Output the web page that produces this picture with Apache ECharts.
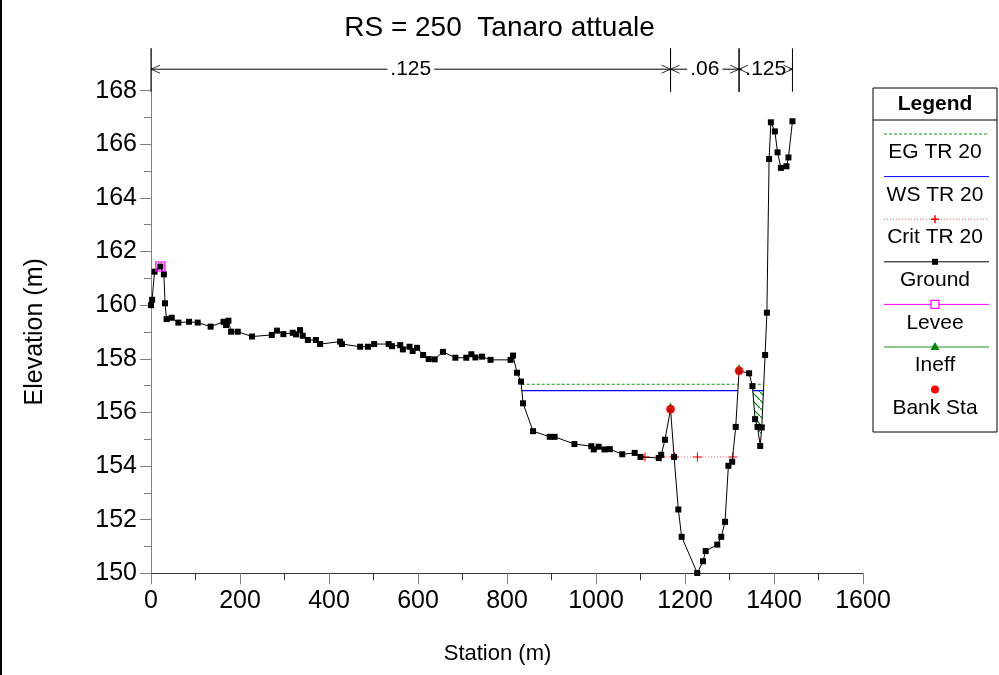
<!DOCTYPE html>
<html>
<head>
<meta charset="utf-8">
<script src="https://cdn.jsdelivr.net/npm/echarts@6/dist/echarts.min.js"></script>
<style>
  html, body { margin: 0; padding: 0; background: #fff; }
  #chart { width: 999px; height: 675px; }
</style>
</head>
<body>
<div id="chart"></div>
<script>
// cross section RS 250
const groundStation = [0, 2.5, 8, 21, 29, 31.5, 35, 46.5, 61.5, 85.5, 105, 134, 163, 168.5, 174, 180, 195, 227,
  271.5, 283, 297.5, 318.5, 326, 335, 341, 352.5, 370.5, 380, 425, 429, 470, 487.5, 501.5, 534, 541.5, 560,
  566, 581, 588, 598, 611.5, 624, 637.5, 656, 684, 708.5, 720, 729, 744, 763, 808, 813.5, 822.5, 831.5, 836,
  858.5, 896, 907, 951.5, 989.5, 995, 1006, 1019, 1031, 1059, 1087, 1100, 1141, 1146.5, 1155, 1167.5, 1175.5,
  1185, 1192.5, 1227.5, 1240.5, 1246.5, 1272.5, 1281.5, 1290, 1297.5, 1306, 1314, 1321.5, 1344, 1351.5, 1357.5,
  1363, 1369, 1372.5, 1380, 1384, 1389, 1393, 1402, 1408, 1415.5, 1428, 1432.5, 1441.5];
const groundElev = [160.00, 160.20, 161.25, 161.44, 161.15, 160.07, 159.48, 159.53, 159.35, 159.38, 159.35, 159.20,
  159.38, 159.26, 159.42, 159.01, 159.01, 158.83, 158.89, 159.05, 158.92, 158.97, 158.91, 159.07, 158.86, 158.70,
  158.70, 158.55, 158.64, 158.55, 158.45, 158.45, 158.55, 158.55, 158.47, 158.51, 158.35, 158.45, 158.29, 158.41,
  158.14, 157.99, 157.98, 158.26, 158.04, 158.04, 158.17, 158.05, 158.08, 157.96, 157.96, 158.12, 157.48, 157.15,
  156.34, 155.30, 155.09, 155.09, 154.82, 154.74, 154.62, 154.72, 154.62, 154.63, 154.44, 154.49, 154.34, 154.30,
  154.42, 154.98, 156.12, 154.34, 152.38, 151.36, 150.01, 150.45, 150.83, 151.07, 151.36, 151.92, 154.01, 154.16,
  155.46, 157.55, 157.46, 156.98, 155.75, 155.46, 154.75, 155.44, 158.14, 159.72, 165.45, 166.82, 166.48, 165.70,
  165.12, 165.18, 165.51, 166.86];

const egElev = 157.05;
const egStations = [[833, 1319.7], [1352.3, 1376.3]];
const wsElev = 156.81;
const wsStations = [[833.4, 1318.8], [1352.3, 1376.3]];
const critElev = 154.34;
const critStations = [1110, 1145.5, 1176.5, 1228, 1307.5];
const leveeStation = [21];
const leveeElev = [161.44];
const bankStation = [1167.5, 1321.5];
const bankElev = [156.12, 157.55];

// ineffective flow area below WS (hatched)
const ineffX = [1352.3, 1357.5, 1363, 1369, 1372.5, 1376.3];
const ineffY = [156.81, 155.75, 155.46, 154.75, 155.44, 156.81];

// Manning's n breaks
const nStations = [0, 1167.5, 1321.5, 1441.5];
const nLabels = ['.125', '.06', '.125'];
const nArrowElev = 168.8;
const nLineBottom = 167.96;

const yMin = 150, yMax = 169.58;
const yMajor = [150, 152, 154, 156, 158, 160, 162, 164, 166, 168];
const yMinor = [151, 153, 155, 157, 159, 161, 163, 165, 167];

const legendNames = ['EG TR 20', 'WS TR 20', 'Crit TR 20', 'Ground', 'Levee', 'Ineff', 'Bank Sta'];

const FONT = 'Liberation Sans, Arial, sans-serif';
const chart = echarts.init(document.getElementById('chart'));

const segData = (segs, elev) => {
  const out = [];
  segs.forEach((s, i) => {
    if (i > 0) out.push(['-', '-']);
    out.push([s[0], elev], [s[1], elev]);
  });
  return out;
};

// hatch pattern
const hatch = document.createElement('canvas');
hatch.width = 8; hatch.height = 8;
const hctx = hatch.getContext('2d');
hctx.strokeStyle = '#008000';
hctx.lineWidth = 1.2;
hctx.beginPath(); hctx.moveTo(-1, -1); hctx.lineTo(9, 9); hctx.stroke();

const plusPath = 'path://M4.4,0H5.6V10H4.4ZM0,4.4H10V5.6H0Z';

// legend box (drawn by hand, items stacked like the original)
const legendGraphic = [];
const LX = 873, LY = 88, LW = 124, LH = 344;
legendGraphic.push({ type: 'rect', shape: { x: LX, y: LY, width: LW, height: LH },
  style: { fill: '#fff', stroke: '#000', lineWidth: 1 } });
legendGraphic.push({ type: 'line', shape: { x1: LX, y1: 120, x2: LX + LW, y2: 120 }, style: { stroke: '#000', lineWidth: 1 } });
legendGraphic.push({ type: 'text', style: { text: 'Legend', x: LX + LW / 2, y: 104, align: 'center', verticalAlign: 'middle',
  fontSize: 21, fontWeight: 'bold', fontFamily: FONT, fill: '#000' } });
const legendStyles = [
  { stroke: '#1f8f1f', dash: [3, 2] },
  { stroke: '#0000ff' },
  { stroke: '#ff6060', dash: [1, 2], marker: 'plus' },
  { stroke: '#000', marker: 'square' },
  { stroke: '#ff00ff', marker: 'open' },
  { stroke: '#1f8f1f', marker: 'tri' },
  { marker: 'dot' }
];
legendNames.forEach((name, i) => {
  const ly = 134 + i * 42.6;
  const cx = LX + LW / 2;
  const st = legendStyles[i];
  if (st.stroke) {
    legendGraphic.push({ type: 'line', shape: { x1: 884, y1: ly, x2: 989, y2: ly },
      style: { stroke: st.stroke, lineWidth: 1, lineDash: st.dash || null } });
  }
  if (st.marker === 'plus') {
    legendGraphic.push({ type: 'line', shape: { x1: cx - 4, y1: ly, x2: cx + 4, y2: ly }, style: { stroke: '#ff0000', lineWidth: 1.5 } });
    legendGraphic.push({ type: 'line', shape: { x1: cx, y1: ly - 4, x2: cx, y2: ly + 4 }, style: { stroke: '#ff0000', lineWidth: 1.5 } });
  } else if (st.marker === 'square') {
    legendGraphic.push({ type: 'rect', shape: { x: cx - 3, y: ly - 3, width: 6, height: 6 }, style: { fill: '#000' } });
  } else if (st.marker === 'open') {
    legendGraphic.push({ type: 'rect', shape: { x: cx - 4, y: ly - 4, width: 8, height: 8 }, style: { fill: '#fff', stroke: '#ff00ff', lineWidth: 1.2 } });
  } else if (st.marker === 'tri') {
    legendGraphic.push({ type: 'polygon', shape: { points: [[cx, ly - 5], [cx - 4.5, ly + 3], [cx + 4.5, ly + 3]] }, style: { fill: '#008000' } });
  } else if (st.marker === 'dot') {
    legendGraphic.push({ type: 'circle', shape: { cx: cx, cy: ly, r: 4 }, style: { fill: '#ff0000' } });
  }
  legendGraphic.push({ type: 'text', style: { text: name, x: cx, y: ly + 18.5, align: 'center', verticalAlign: 'middle',
    fontSize: 21, fontFamily: FONT, fill: '#000' } });
});

const option = {
  animation: false,
  backgroundColor: '#fff',
  title: {
    text: 'RS = 250  Tanaro attuale',
    left: 'center',
    top: 9,
    textStyle: { fontSize: 28, fontWeight: 'normal', fontFamily: FONT, color: '#000' }
  },
  grid: { left: 151, right: 136, top: 48.3, bottom: 101.7 },
  xAxis: {
    type: 'value',
    min: 0, max: 1600, interval: 200,
    name: 'Station (m)', nameLocation: 'middle', nameGap: 70,
    nameTextStyle: { fontSize: 22, fontFamily: FONT, color: '#000', padding: [0, 19, 0, 0] },
    axisLine: { show: true, onZero: false, lineStyle: { color: '#333', width: 1 } },
    axisTick: { show: true, length: 11, lineStyle: { color: '#808080' } },
    minorTick: { show: true, splitNumber: 2, length: 7, lineStyle: { color: '#333' } },
    axisLabel: { fontSize: 25, fontFamily: FONT, color: '#000', margin: 15, formatter: v => String(v) },
    splitLine: { show: false }
  },
  yAxis: [{
    type: 'value',
    min: yMin, max: yMax,
    name: 'Elevation (m)', nameLocation: 'middle', nameGap: 103, nameRotate: 90,
    nameTextStyle: { fontSize: 25, fontFamily: FONT, color: '#000', padding: [0, 42, 0, 0] },
    axisLine: { show: true, onZero: false, lineStyle: { color: '#808080' } },
    axisTick: { show: true, length: 11, customValues: yMajor, lineStyle: { color: '#808080' } },
    axisLabel: { customValues: yMajor, fontSize: 25, fontFamily: FONT, color: '#000', margin: 14, formatter: v => String(v) },
    splitLine: { show: false }
  }, {
    type: 'value',
    min: yMin, max: yMax, position: 'left',
    axisLine: { show: false },
    axisTick: { show: true, length: 7, customValues: yMinor, lineStyle: { color: '#808080' } },
    axisLabel: { show: false },
    splitLine: { show: false }
  }],
  series: [
    {
      name: 'Ineff area',
      type: 'custom',
      data: [0],
      z: 1,
      renderItem: (params, api) => ({
        type: 'polygon',
        shape: { points: ineffX.map((x, i) => api.coord([x, ineffY[i]])) },
        style: { fill: { image: hatch, repeat: 'repeat' }, stroke: null }
      })
    },
    {
      name: 'EG TR 20',
      type: 'line',
      data: segData(egStations, egElev),
      symbol: 'none',
      lineStyle: { color: '#1f8f1f', width: 1, type: [3, 2] },
      z: 2
    },
    {
      name: 'WS TR 20',
      type: 'line',
      data: segData(wsStations, wsElev),
      symbol: 'none',
      lineStyle: { color: '#0000ff', width: 1.2 },
      z: 2
    },
    {
      name: 'Crit TR 20',
      type: 'line',
      data: critStations.map(s => [s, critElev]),
      symbol: plusPath,
      symbolSize: 9,
      itemStyle: { color: '#ff0000' },
      lineStyle: { color: '#ff6060', width: 1, type: [1, 2] },
      z: 3
    },
    {
      name: 'Ground',
      type: 'line',
      data: groundStation.map((s, i) => [s, groundElev[i]]),
      symbol: 'rect',
      symbolSize: 6,
      itemStyle: { color: '#000' },
      lineStyle: { color: '#000', width: 1 },
      z: 4
    },
    {
      name: 'Levee',
      type: 'scatter',
      data: leveeStation.map((s, i) => [s, leveeElev[i]]),
      symbol: 'rect',
      symbolSize: 9,
      itemStyle: { color: 'rgba(0,0,0,0)', borderColor: '#ff00ff', borderWidth: 1.6 },
      z: 5
    },
    {
      name: 'Ineff',
      type: 'scatter',
      data: bankStation.map((s, i) => [s, bankElev[i]]),
      symbol: 'triangle',
      symbolSize: 8,
      symbolOffset: [0, -3],
      itemStyle: { color: '#008000' },
      z: 5
    },
    {
      name: 'Bank Sta',
      type: 'scatter',
      data: bankStation.map((s, i) => [s, bankElev[i]]),
      symbol: 'circle',
      symbolSize: 9,
      itemStyle: { color: '#ff0000' },
      z: 6
    },
    {
      name: 'n values',
      type: 'custom',
      data: nLabels.map((l, i) => [nStations[i], nStations[i + 1]]),
      z: 7,
      renderItem: (params, api) => {
        const a = api.coord([api.value(0), nArrowElev]);
        const b = api.coord([api.value(1), nArrowElev]);
        const top = api.coord([api.value(0), yMax])[1];
        const bot = api.coord([api.value(0), nLineBottom])[1];
        const y = a[1];
        const ls = { stroke: '#000', lineWidth: 1 };
        return {
          type: 'group',
          children: [
            { type: 'line', shape: { x1: a[0], y1: y, x2: b[0], y2: y }, style: ls },
            { type: 'text', style: { text: nLabels[params.dataIndex], x: (a[0] + b[0]) / 2, y: y,
                align: 'center', verticalAlign: 'middle', fontSize: 21, fontFamily: FONT, fill: '#000',
                backgroundColor: '#fff', padding: [0, 3] } },
            { type: 'line', shape: { x1: a[0], y1: top, x2: a[0], y2: bot }, style: ls },
            { type: 'line', shape: { x1: b[0], y1: top, x2: b[0], y2: bot }, style: ls },
            { type: 'polyline', shape: { points: [[a[0] + 9, y - 4], [a[0], y], [a[0] + 9, y + 4]] }, style: { stroke: '#000', fill: null, lineWidth: 0.8 } },
            { type: 'polyline', shape: { points: [[b[0] - 9, y - 4], [b[0], y], [b[0] - 9, y + 4]] }, style: { stroke: '#000', fill: null, lineWidth: 0.8 } }
          ]
        };
      }
    }
  ],
  graphic: [
    { type: 'rect', shape: { x: 0, y: 0, width: 2, height: 675 }, style: { fill: '#000' } }
  ].concat(legendGraphic)
};

chart.setOption(option);
</script>
</body>
</html>
